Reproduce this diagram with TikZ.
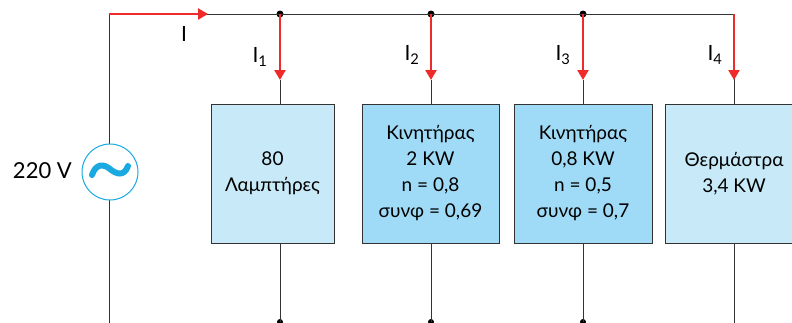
\documentclass[tikz,border=0pt]{standalone}
\usepackage{fontspec}
\setmainfont{Lato}
\usetikzlibrary{arrows.meta}
\definecolor{wire}{HTML}{333333}
\definecolor{cred}{HTML}{EE2A2A}
\definecolor{lightbox}{HTML}{C8E9F8}
\definecolor{darkbox}{HTML}{9FDAF6}
\definecolor{srccol}{HTML}{1BA9E1}
\tikzset{
  wireline/.style={draw=wire, line width=1pt},
  current/.style={draw=cred, line width=2.4pt, -{Triangle[width=11pt,length=10pt]}},
  loadbox/.style={draw=wire, line width=1pt, minimum height=139pt, inner sep=0pt, align=center, font=\fontsize{19}{26}\selectfont},
  lbl/.style={font=\fontsize{21}{22}\selectfont, inner sep=0pt},
  dotc/.style={circle, fill=black, inner sep=0pt, minimum size=7pt},
}
\begin{document}
\begin{tikzpicture}[x=1pt,y=-1pt]
\useasboundingbox (0,0) rectangle (792,322);
% coordinates
\coordinate (tl) at (109,14);
\coordinate (bl) at (109,330);
\coordinate (tr) at (734,14);
\coordinate (iarrow) at (208,14);
\node[dotc] (j1) at (280,14) {};
\node[dotc] (j2) at (431,14) {};
\node[dotc] (j3) at (583,14) {};
\coordinate (j4) at (734,14);
\coordinate (a1) at (280,80);
\coordinate (a2) at (431,80);
\coordinate (a3) at (583,80);
\coordinate (a4) at (734,80);
% boxes
\node[loadbox, fill=lightbox, minimum width=123pt] (b1) at (272.5,173.5) {80\\Λαμπτήρες};
\node[loadbox, fill=darkbox, minimum width=137pt] (b2) at (430.5,173.5) {Κινητήρας\\2 KW\\n = 0,8\\συνφ = 0,69};
\node[loadbox, fill=darkbox, minimum width=138pt] (b3) at (583,173.5) {Κινητήρας\\0,8 KW\\n = 0,5\\συνφ = 0,7};
\node[loadbox, fill=lightbox, minimum width=138pt] (b4) at (734,173.5) {Θερμάστρα\\3,4 KW};
% bottom terminals
\node[dotc, minimum size=6pt] (t1) at (280,322) {};
\node[dotc, minimum size=6pt] (t2) at (431,322) {};
\node[dotc, minimum size=6pt] (t3) at (583,322) {};
\coordinate (t4) at (734,330);
% wires
\draw[wireline] (bl) -- (tl) -- (tr) -- (a4);
\draw[wireline] (a1) -- (a1 |- b1.north);
\draw[wireline] (a2) -- (a2 |- b2.north);
\draw[wireline] (a3) -- (a3 |- b3.north);
\draw[wireline] (a4) -- (a4 |- b4.north);
\draw[wireline] (t1 |- b1.south) -- (t1.center);
\draw[wireline] (t2 |- b2.south) -- (t2.center);
\draw[wireline] (t3 |- b3.south) -- (t3.center);
\draw[wireline] (t4 |- b4.south) -- (t4);
% currents
\draw[current] (tl) -- (iarrow);
\draw[current] (j1.center) -- (a1);
\draw[current] (j2.center) -- (a2);
\draw[current] (j3.center) -- (a3);
\draw[current] (j4) -- (a4);
% labels
\node[lbl] (lI) at (184,34) {I};
\node[lbl] (l1) at (260,57) {I\textsubscript{1}};
\node[lbl] (l2) at (412,55) {I\textsubscript{2}};
\node[lbl] (l3) at (563,55) {I\textsubscript{3}};
\node[lbl] (l4) at (715,55) {I\textsubscript{4}};
% source
\node[circle, draw=srccol, fill=white, line width=1pt, minimum size=56pt, inner sep=0pt] (src) at (110,172) {};
\draw[srccol, line width=6pt, line cap=round] (92,175) .. controls (96,163) and (104,164) .. (110,169) .. controls (116,174) and (124,177) .. (128,166);
\node[font=\fontsize{22}{24}\selectfont, inner sep=0pt, anchor=east] (vlabel) at (72,171) {220 V};
\end{tikzpicture}
\end{document}
